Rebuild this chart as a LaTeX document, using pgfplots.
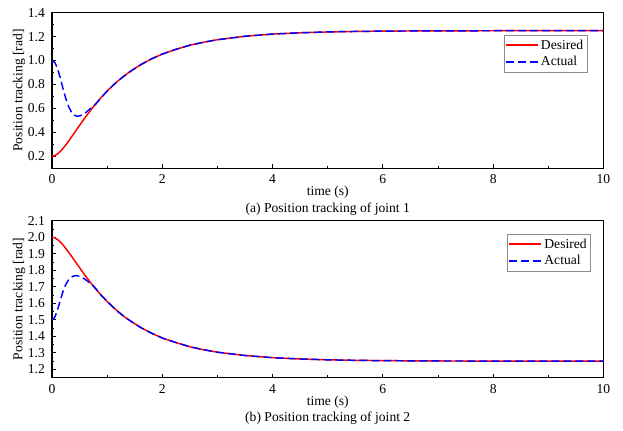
\documentclass[border=0pt]{standalone}
\usepackage{pgfplots}
\pgfplotsset{compat=1.18}
\usepackage{fontspec}
\setmainfont{Liberation Serif}

\pgfplotsset{
  myaxis/.style={
    scale only axis,
    width=413.6pt,
    xmin=0, xmax=10,
    xtick={0,2,4,6,8,10},
    minor x tick num=1,
    minor y tick num=1,
    tick align=inside,
    xtick pos=bottom,
    ytick pos=left,
    major tick length=3pt,
    minor tick length=1.8pt,
    every tick/.append style={black, line width=0.6pt},
    axis line style={black, line width=0.8pt},
    /pgf/number format/assume math mode=true,
    yticklabel style={xshift=-1.8pt, /pgf/number format/.cd, fixed, fixed zerofill, precision=1},
    xticklabel style={yshift=-1.4pt},
    xlabel={time (s)},
    ylabel={Position tracking [rad]},
    xlabel style={at={(axis description cs:0.5,-0.156)}, anchor=center},
    ylabel style={at={(axis description cs:-0.0598,0.5)}, anchor=center},
    legend cell align=left,
    legend image code/.code={%
      \draw[#1] (0cm,0.15pt) -- (0.84cm,0.15pt);
      \draw[#1] (0cm,0cm) -- (0.84cm,0cm);},
    legend style={draw=black!45, inner xsep=1pt, inner ysep=1.5pt, row sep=0.4pt,
      nodes={inner sep=1.8pt, text=black}, fill=white},
  },
  desiredline/.style={draw=red, line width=1.1pt, solid},
  actualline/.style={draw=blue, line width=1.1pt, dash pattern=on 6pt off 3pt},
}

\begin{document}
\begin{tikzpicture}[font=\fontsize{10.2}{12}\selectfont]
\path[use as bounding box] (-39pt,-197pt) rectangle (428.25pt,126.2pt);

\begin{axis}[myaxis, name=ax1, at={(0,0)}, anchor=south west,
  height=116.7pt, ymin=0.1, ymax=1.4,
  ytick={0.2,0.4,0.6,0.8,1.0,1.2,1.4},
  legend style={at={(axis description cs:0.9706,0.8567)}, anchor=north east}]
\addplot[desiredline] coordinates {
(0,0.200)(0.05,0.2055)(0.1,0.2196)(0.15,0.2405)(0.2,0.266)(0.25,0.295)(0.3,0.326)(0.35,0.359)
(0.4,0.392)(0.45,0.425)(0.5,0.458)(0.55,0.491)(0.6,0.523)(0.65,0.554)(0.7,0.584)(0.75,0.614)
(0.8,0.642)(0.85,0.669)(0.9,0.695)(1.0,0.745)(1.1,0.790)(1.2,0.831)(1.3,0.868)(1.4,0.903)(1.6,0.963)
(1.8,1.013)(2.0,1.054)(2.25,1.094)(2.5,1.128)(2.75,1.153)(3.0,1.174)(3.5,1.203)(4.0,1.221)(4.5,1.232)
(5.0,1.239)(5.5,1.243)(6.0,1.246)(7.0,1.248)(8.0,1.249)(9.0,1.2497)(10.0,1.250)
};
\addlegendentry{Desired}
\addplot[actualline] coordinates {
(0,1.000)(0.05,0.985)(0.1,0.935)(0.15,0.855)(0.2,0.765)(0.25,0.683)(0.3,0.618)(0.35,0.570)
(0.4,0.545)(0.45,0.535)(0.5,0.537)(0.55,0.546)(0.6,0.561)(0.65,0.580)(0.7,0.600)(0.75,0.618)
(0.8,0.640)(0.85,0.667)(0.9,0.695)(1.0,0.745)(1.1,0.790)(1.2,0.831)(1.3,0.868)(1.4,0.903)(1.6,0.963)
(1.8,1.013)(2.0,1.054)(2.25,1.094)(2.5,1.128)(2.75,1.153)(3.0,1.174)(3.5,1.203)(4.0,1.221)(4.5,1.232)
(5.0,1.239)(5.5,1.243)(6.0,1.246)(7.0,1.248)(8.0,1.249)(9.0,1.2497)(10.0,1.250)
};
\addlegendentry{Actual}
\end{axis}
\node at ([yshift=-30.8pt]ax1.south) {(a) Position tracking of joint 1};

\begin{axis}[myaxis, name=ax2, at={(0,-157.05pt)}, anchor=south west,
  height=117.75pt, ymin=1.15, ymax=2.1,
  ytick={1.2,1.3,1.4,1.5,1.6,1.7,1.8,1.9,2.0,2.1},
  legend style={at={(axis description cs:0.9768,0.915)}, anchor=north east}]
\addplot[desiredline] coordinates {
(0,2.000)(0.05,1.996)(0.1,1.986)(0.15,1.971)(0.2,1.953)(0.25,1.932)(0.3,1.910)(0.35,1.887)
(0.4,1.863)(0.45,1.839)(0.5,1.816)(0.55,1.792)(0.6,1.769)(0.65,1.747)(0.7,1.725)(0.75,1.704)
(0.8,1.684)(0.85,1.665)(0.9,1.646)(1.0,1.611)(1.1,1.579)(1.2,1.549)(1.3,1.522)(1.4,1.498)(1.6,1.455)
(1.8,1.420)(2.0,1.390)(2.25,1.362)(2.5,1.337)(2.75,1.319)(3.0,1.304)(3.5,1.284)(4.0,1.271)(4.5,1.263)
(5.0,1.258)(5.5,1.255)(6.0,1.253)(7.0,1.251)(8.0,1.2505)(9.0,1.2502)(10.0,1.250)
};
\addlegendentry{Desired}
\addplot[actualline] coordinates {
(0,1.500)(0.05,1.515)(0.1,1.560)(0.15,1.618)(0.2,1.672)(0.25,1.714)(0.3,1.742)(0.35,1.758)
(0.4,1.766)(0.45,1.767)(0.5,1.764)(0.55,1.756)(0.6,1.745)(0.65,1.732)(0.7,1.718)(0.75,1.705)
(0.8,1.686)(0.85,1.665)(0.9,1.646)(1.0,1.611)(1.1,1.579)(1.2,1.549)(1.3,1.522)(1.4,1.498)(1.6,1.455)
(1.8,1.420)(2.0,1.390)(2.25,1.362)(2.5,1.337)(2.75,1.319)(3.0,1.304)(3.5,1.284)(4.0,1.271)(4.5,1.263)
(5.0,1.258)(5.5,1.255)(6.0,1.253)(7.0,1.251)(8.0,1.2505)(9.0,1.2502)(10.0,1.250)
};
\addlegendentry{Actual}
\end{axis}
\node at ([yshift=-30.2pt]ax2.south) {(b) Position tracking of joint 2};
\end{tikzpicture}
\end{document}
